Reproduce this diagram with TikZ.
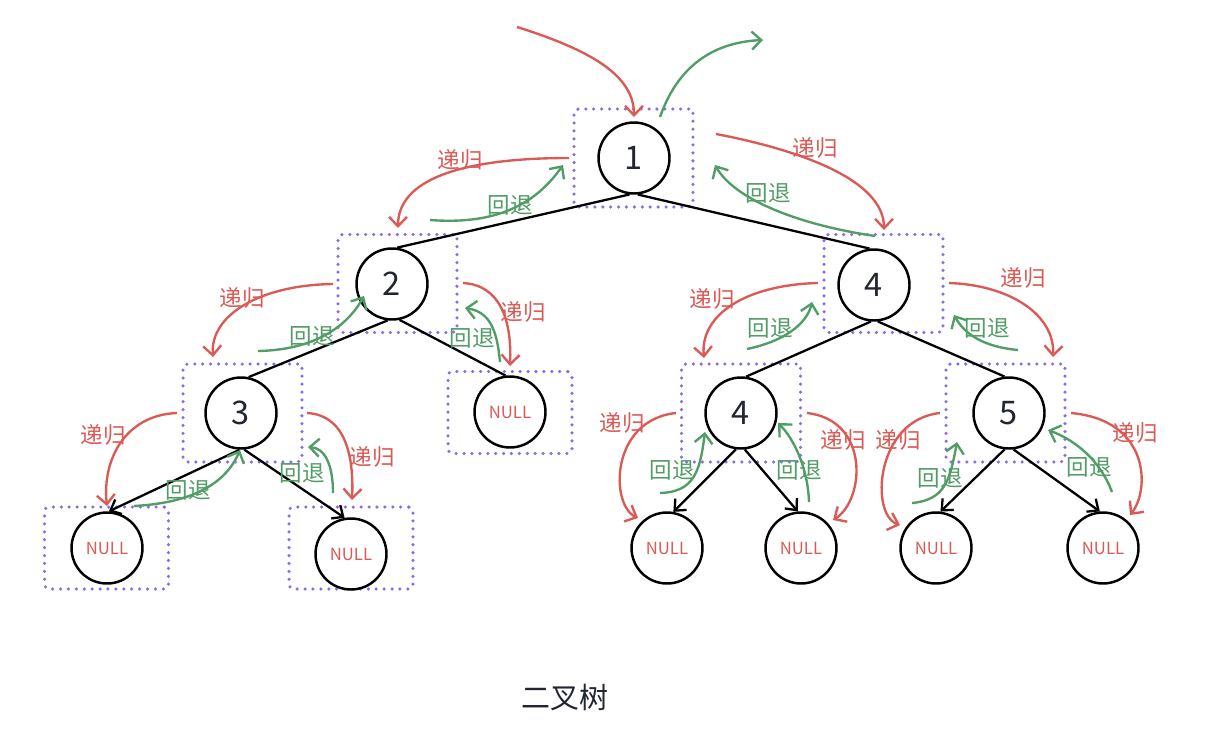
\documentclass[tikz,border=0pt]{standalone}
\usepackage{fontspec}
\setmainfont{Noto Sans CJK SC}
\usetikzlibrary{arrows.meta}
\definecolor{rred}{RGB}{218,90,86}
\definecolor{ggreen}{RGB}{82,156,102}
\definecolor{ppurple}{RGB}{140,108,228}
\definecolor{ink}{RGB}{34,38,48}
\tikzset{
  tnode/.style={circle,draw=black,line width=1.4pt,fill=white,minimum size=1.42cm,inner sep=0pt,text=ink,font=\fontsize{18.5}{20}\selectfont},
  nullnode/.style={tnode,text=rred,font=\fontsize{9.5}{11}\selectfont},
  dotbox/.style={draw=ppurple,line width=2pt,line cap=round,dash pattern=on 0pt off 4.5pt,rounded corners=2.5pt,minimum width=2.38cm,minimum height=1.96cm,inner sep=0pt},
  nullbox/.style={dotbox,minimum width=2.48cm,minimum height=1.64cm},
  edge/.style={draw=black,line width=1.3pt},
  aedge/.style={edge,-{Straight Barb[length=1.8mm,width=3.2mm]}},
  rec/.style={draw=rred,line width=1.35pt,-{Straight Barb[length=1.9mm,width=3.6mm]}},
  back/.style={draw=ggreen,line width=1.35pt,-{Straight Barb[length=1.9mm,width=3.6mm]}},
  rlab/.style={text=rred,font=\fontsize{12.8}{14}\selectfont,inner sep=0pt},
  glab/.style={text=ggreen,font=\fontsize{12.8}{14}\selectfont,inner sep=0pt},
}
\begin{document}
\begin{tikzpicture}[x=0.02cm,y=-0.02cm]
\useasboundingbox (0,0) rectangle (1213,744);
% dotted boxes
\node[dotbox] (b1) at (633.5,158) {};
\node[dotbox] (b2) at (397.5,283.5) {};
\node[dotbox] (b3) at (242.5,413) {};
\node[nullbox] (bn2r) at (510,412.5) {};
\node[nullbox] (bn3l) at (106.5,548) {};
\node[nullbox] (bn3r) at (351,548) {};
\node[dotbox] (b4) at (883.5,283.5) {};
\node[dotbox] (b4l) at (741,413) {};
\node[dotbox] (b5) at (1005.5,413) {};
% tree nodes
\node[tnode] (n1) at (634,158) {1};
\node[tnode] (n2) at (392,284) {2};
\node[tnode] (n3) at (241,413) {3};
\node[nullnode] (m2) at (510,412) {NULL};
\node[nullnode] (m3l) at (107,548) {NULL};
\node[nullnode] (m3r) at (351,554) {NULL};
\node[tnode] (n4) at (874,285) {4};
\node[tnode] (n4l) at (741,413) {4};
\node[tnode] (n5) at (1009,413) {5};
\node[nullnode] (m4a) at (667,548) {NULL};
\node[nullnode] (m4b) at (801,548) {NULL};
\node[nullnode] (m5a) at (936,548) {NULL};
\node[nullnode] (m5b) at (1103,548) {NULL};
% edges
\draw[edge] (n1.-97) -- (n2.82);
\draw[edge] (n1.-84) -- (n4.97);
\draw[edge] (n2.-97) -- (n3.78);
\draw[edge] (n2.-78) -- (m2.97);
\draw[aedge] (n3.-92) -- (m3l.87);
\draw[aedge] (n3.-85) -- (m3r.100);
\draw[edge] (n4.-95) -- (n4l.82);
\draw[edge] (n4.-84) -- (n5.97);
\draw[aedge] (n4l.-98) -- (m4a.80);
\draw[aedge] (n4l.-84) -- (m4b.95);
\draw[aedge] (n5.-97) -- (m5a.83);
\draw[aedge] (n5.-83) -- (m5b.95);
% recursion / backtrack curves
\draw[rec] (517,27) .. controls (590,50) and (634,75) .. (634,117);
\draw[back] (660,117) .. controls (680,60) and (720,42) .. (763,40);
\draw[rec] (569,158) .. controls (460,158) and (398,180) .. (398,228);
\draw[back] (430,220) .. controls (495,225) and (535,205) .. (563,165);
\draw[rec] (716,134) .. controls (800,150) and (884,180) .. (884,230);
\draw[back] (875,236) .. controls (800,225) and (735,200) .. (715,165);
\draw[rec] (333,284) .. controls (260,285) and (210,315) .. (213,357);
\draw[back] (258,351) .. controls (310,350) and (345,330) .. (364,296);
\draw[rec] (463,283) .. controls (500,285) and (512,320) .. (510,366);
\draw[back] (500,362) .. controls (497,330) and (490,312) .. (465,308);
\draw[rec] (177,413) .. controls (125,415) and (102,460) .. (107,506);
\draw[back] (134,506) .. controls (190,503) and (225,485) .. (240,450);
\draw[rec] (307,413) .. controls (345,415) and (354,455) .. (352,500);
\draw[back] (333,493) .. controls (333,465) and (325,448) .. (308,447);
\draw[rec] (818,283) .. controls (745,285) and (700,315) .. (704,358);
\draw[back] (747,349) .. controls (790,340) and (808,320) .. (812,302);
\draw[rec] (949,283) .. controls (1010,285) and (1055,315) .. (1053,357);
\draw[back] (1018,350) .. controls (985,347) and (965,335) .. (954,315);
\draw[rec] (676,413) .. controls (610,420) and (610,505) .. (638,518);
\draw[back] (660,493) .. controls (695,492) and (700,470) .. (705,432);
\draw[rec] (807,413) .. controls (870,420) and (865,500) .. (833,520);
\draw[back] (809,502) .. controls (808,470) and (795,440) .. (778,423);
\draw[rec] (940,413) .. controls (875,420) and (870,515) .. (900,525);
\draw[back] (912,503) .. controls (945,500) and (950,480) .. (957,442);
\draw[rec] (1071,413) .. controls (1150,420) and (1150,490) .. (1130,515);
\draw[back] (1112,492) .. controls (1100,460) and (1075,440) .. (1048,430);
% labels
\node[rlab] (l1) at (460,160) {递归};
\node[glab] (l2) at (510,205) {回退};
\node[rlab] (l3) at (815,148) {递归};
\node[glab] (l4) at (768,193) {回退};
\node[rlab] (l5) at (242,298) {递归};
\node[glab] (l6) at (312,336) {回退};
\node[rlab] (l7) at (523,312) {递归};
\node[glab] (l8) at (472,338) {回退};
\node[rlab] (l9) at (103,435) {递归};
\node[glab] (l10) at (188,490) {回退};
\node[rlab] (l11) at (372,457) {递归};
\node[glab] (l12) at (302,473) {回退};
\node[rlab] (l13) at (712,299) {递归};
\node[glab] (l14) at (770,328) {回退};
\node[rlab] (l15) at (1023,278) {递归};
\node[glab] (l16) at (987,328) {回退};
\node[rlab] (l17) at (622,423) {递归};
\node[glab] (l18) at (672,470) {回退};
\node[rlab] (l19) at (843,440) {递归};
\node[glab] (l20) at (799,470) {回退};
\node[rlab] (l21) at (898,440) {递归};
\node[glab] (l22) at (940,478) {回退};
\node[rlab] (l23) at (1135,433) {递归};
\node[glab] (l24) at (1089,467) {回退};
\node[text=ink,font=\fontsize{16.5}{18}\selectfont] (cap) at (565,697) {二叉树};
\end{tikzpicture}
\end{document}
